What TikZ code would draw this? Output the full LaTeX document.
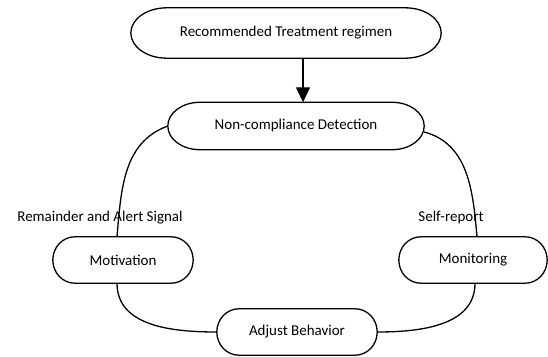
\documentclass[tikz,border=0pt]{standalone}
\usepackage{fontspec}
\setmainfont{Carlito}
\usetikzlibrary{calc,arrows.meta}
\newcommand{\capsule}[2]{%
  \draw[outline] let \p1=(#1.north east), \p2=(#1.south west), \n1={(\y1-\y2)/2} in
    (\x2+#2,\y1) -- (\x1-#2,\y1) arc[start angle=90,end angle=-90,x radius=#2,y radius=\n1]
    -- (\x2+#2,\y2) arc[start angle=270,end angle=90,x radius=#2,y radius=\n1] -- cycle;}
\begin{document}
\begin{tikzpicture}[x=1pt,y=1pt]
\tikzset{box/.style={inner sep=0pt, font=\fontsize{15}{18}\selectfont},
  outline/.style={line width=1.3pt, black},
  link/.style={line width=1.3pt, black},
  tag/.style={inner sep=0pt, font=\fontsize{15}{18}\selectfont}}
\useasboundingbox (0,0) rectangle (548,356);
\node [box, minimum width=310pt, minimum height=50pt] (rec) at (286,323) {Recommended Treatment regimen};
\node [box, minimum width=256pt, minimum height=47pt] (ncd) at (296,230) {Non-compliance Detection};
\node [box, minimum width=140pt, minimum height=46pt] (mot) at (123,96) {Motivation};
\node [box, minimum width=148pt, minimum height=46pt] (mon) at (473,96) {Monitoring};
\node [box, minimum width=160pt, minimum height=46pt] (adj) at (297,24) {Adjust Behavior};
\capsule{rec}{36pt}
\capsule{ncd}{32pt}
\capsule{mot}{22pt}
\capsule{mon}{22pt}
\capsule{adj}{22pt}
\node [tag] (rem) at (100,138) {Remainder and Alert Signal};
\node [tag] (self) at (451,138) {Self-report};
\draw [link, -{Triangle[width=14pt,length=15pt]}] ([xshift=17pt]rec.south) -- ([xshift=7pt]ncd.north);
\draw [link] ([xshift=-6pt]mot.north) to[out=85,in=200] (ncd.west);
\draw [link] ([yshift=-6pt]ncd.east) to[out=-15,in=95] ([xshift=4pt]mon.north);
\draw [link] ([xshift=-6pt]mot.south) to[out=-90,in=180] (adj.west);
\draw [link] (adj.east) to[out=0,in=-90] ([xshift=2pt]mon.south);
\end{tikzpicture}
\end{document}
